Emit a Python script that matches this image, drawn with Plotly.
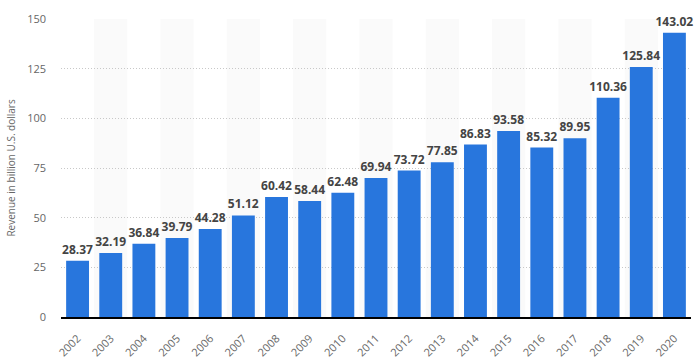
import plotly.graph_objects as go

years = ["2002","2003","2004","2005","2006","2007","2008","2009","2010","2011",
         "2012","2013","2014","2015","2016","2017","2018","2019","2020"]
revenue = [28.37,32.19,36.84,39.79,44.28,51.12,60.42,58.44,62.48,69.94,
           73.72,77.85,86.83,93.58,85.32,89.95,110.36,125.84,143.02]
y_ticks = [0,25,50,75,100,125,150]

fig = go.Figure()
fig.add_trace(go.Bar(
    x=years, y=revenue,
    marker=dict(color="#2876dd", line=dict(width=0)),
    text=[f"{v:.2f}" for v in revenue],
    textposition="outside",
    textfont=dict(family="Open Sans", size=12, color="#444444"),
    texttemplate="<b>%{text}</b>",
    constraintext="none",
    cliponaxis=False,
    width=0.69,
))

shapes = []
for i in range(len(years)):
    if i % 2 == 1:
        shapes.append(dict(type="rect", xref="x", yref="paper",
                           x0=i-0.5, x1=i+0.5, y0=0, y1=1,
                           fillcolor="#fafafa", line=dict(width=0), layer="below"))

fig.update_layout(
    width=699, height=362,
    margin=dict(l=61, r=8, t=19, b=45),
    plot_bgcolor="white", paper_bgcolor="white",
    shapes=shapes,
    showlegend=False,
    font=dict(family="Open Sans", color="#666666"),
    xaxis=dict(type="category", tickangle=-45, tickfont=dict(size=11, color="#666666"),
               showgrid=False, showline=True, linecolor="#000000", linewidth=1.5,
               ticks="", range=[-0.5, len(years)-0.5], automargin=False,
               ticklabelstandoff=9),
    yaxis=dict(range=[0,150], tickvals=y_ticks, tickfont=dict(size=11, color="#666666"),
               showgrid=True, gridcolor="#c8c8c8", griddash="1px,2px", gridwidth=1,
               zeroline=False, ticks="", ticklabelstandoff=14, automargin=False),
    annotations=[dict(text="Revenue in billion U.S. dollars", xref="paper", yref="paper",
                      x=-0.08, y=0.5, xanchor="center", yanchor="middle",
                      textangle=-90, showarrow=False,
                      font=dict(size=10, color="#666666"))],
)

fig.write_html("out.html", config={"displayModeBar": False},
               post_script="document.body.style.margin='0';document.body.style.overflow='hidden';")
